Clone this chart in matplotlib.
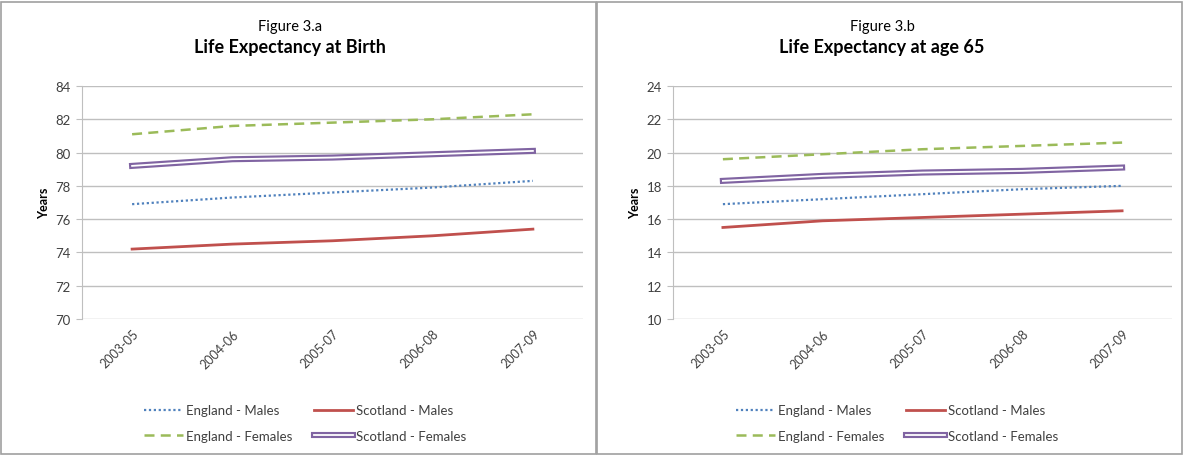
import matplotlib
matplotlib.use("Agg")
import matplotlib.pyplot as plt
import matplotlib.patheffects as pe
from matplotlib.patches import Rectangle

plt.rcParams["font.family"] = ["Lato", "DejaVu Sans"]

# categories shared by both panels
periods = ["2003-05", "2004-06", "2005-07", "2006-08", "2007-09"]
series_names = ["England - Males", "Scotland - Males", "England - Females", "Scotland - Females"]

# life expectancy at birth
birth_eng_m = [76.9, 77.3, 77.6, 77.9, 78.3]
birth_sco_m = [74.2, 74.5, 74.7, 75.0, 75.4]
birth_eng_f = [81.1, 81.6, 81.8, 82.0, 82.3]
birth_sco_f = [79.2, 79.6, 79.7, 79.9, 80.1]

# life expectancy at age 65
age65_eng_m = [16.9, 17.2, 17.5, 17.8, 18.0]
age65_sco_m = [15.5, 15.9, 16.1, 16.3, 16.5]
age65_eng_f = [19.6, 19.9, 20.2, 20.4, 20.6]
age65_sco_f = [18.3, 18.6, 18.8, 18.9, 19.1]

birth_ticks = [70, 72, 74, 76, 78, 80, 82, 84]
age65_ticks = [10, 12, 14, 16, 18, 20, 22, 24]

BLUE = "#4F81BD"
RED = "#C0504D"
GREEN = "#9BBB59"
PURPLE = "#8064A2"
GRID = "#BFBFBF"
TEXT = "#404040"

W, H = 1184, 456
fig = plt.figure(figsize=(W / 100, H / 100), dpi=100)

# outer chart borders and divider
fig.patches.append(Rectangle((1 / W, 1 / H), 595 / W, 452 / H, transform=fig.transFigure,
                             fill=False, edgecolor="#A0A0A0", linewidth=1.2))
fig.patches.append(Rectangle((597 / W, 1 / H), 585 / W, 452 / H, transform=fig.transFigure,
                             fill=False, edgecolor="#A0A0A0", linewidth=1.2))


def draw_panel(left_px, right_px, title_cx, legend_cx, fig_title, main_title, em, sm, ef, sf, ticks):
    ax = fig.add_axes([left_px / W, (H - 320) / H, (right_px - left_px) / W, 233 / H])
    x = range(len(periods))
    l_em, = ax.plot(x, em, color=BLUE, linestyle=(0, (1, 1.2)), linewidth=1.6, label=series_names[0])
    l_sm, = ax.plot(x, sm, color=RED, linestyle="-", linewidth=2, label=series_names[1])
    l_ef, = ax.plot(x, ef, color=GREEN, linestyle=(0, (4, 2.5)), linewidth=1.8, label=series_names[2])
    l_sf, = ax.plot(x, sf, color="white", linestyle="-", linewidth=1.3, label=series_names[3],
                    path_effects=[pe.Stroke(linewidth=4.4, foreground=PURPLE), pe.Normal()])

    ax.set_xlim(-0.5, len(periods) - 0.5)
    ax.set_ylim(ticks[0], ticks[-1])
    ax.set_yticks(ticks)
    ax.set_xticks(list(x))
    ax.set_xticklabels(periods, rotation=45, ha="right", rotation_mode="anchor")
    ax.tick_params(axis="x", length=0, labelsize=9, colors=TEXT, pad=6)
    ax.tick_params(axis="y", length=4, labelsize=9.5, colors=TEXT, pad=4, color=GRID)
    ax.grid(axis="y", color=GRID, linewidth=1)
    ax.set_axisbelow(True)
    for side in ["top", "right", "bottom"]:
        ax.spines[side].set_visible(False)
    ax.spines["left"].set_color(GRID)
    ax.set_ylabel("Years", fontsize=9, fontweight="bold", color="black", labelpad=4)

    fig.text(title_cx / W, 1 - 27 / H, fig_title, ha="center", va="center", fontsize=10.5, color="black")
    fig.text(title_cx / W, 1 - 48 / H, main_title, ha="center", va="center", fontsize=13,
             fontweight="bold", color="black")

    # order so that rows read: males on the first row, females on the second
    ax.legend([l_em, l_ef, l_sm, l_sf], [series_names[0], series_names[2], series_names[1], series_names[3]],
              loc="center", bbox_to_anchor=(legend_cx / W, 1 - 424 / H), bbox_transform=fig.transFigure,
              ncol=2, frameon=False, fontsize=9.5, handlelength=3.0, handletextpad=0.2,
              columnspacing=1.6, labelspacing=1.0, labelcolor=TEXT)
    return ax


draw_panel(82, 583, 290, 305, "Figure 3.a", "Life Expectancy at Birth",
           birth_eng_m, birth_sco_m, birth_eng_f, birth_sco_f, birth_ticks)
draw_panel(673, 1172, 882, 897, "Figure 3.b", "Life Expectancy at age 65",
           age65_eng_m, age65_sco_m, age65_eng_f, age65_sco_f, age65_ticks)

fig.savefig("out.png", dpi=100)
plt.close(fig)
